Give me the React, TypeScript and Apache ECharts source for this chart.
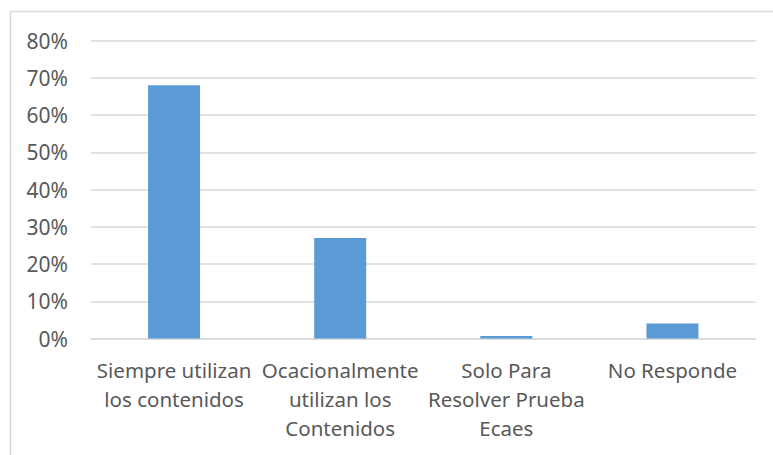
import React, { useEffect, useRef } from "react";
import * as echarts from "echarts";

const categories = [
  "Siempre utilizan\nlos contenidos",
  "Ocacionalmente\nutilizan los\nContenidos",
  "Solo Para\nResolver Prueba\nEcaes",
  "No Responde",
];
const values = [0.68, 0.27, 0.007, 0.04];
const yTicks = { min: 0, max: 0.8, interval: 0.1 };

export default function App() {
  const ref = useRef<HTMLDivElement>(null);
  useEffect(() => {
    const chart = echarts.init(ref.current!, null, { renderer: "svg" });
    const font = "'Noto Sans', sans-serif";
    chart.setOption({
      animation: false,
      backgroundColor: "#ffffff",
      graphic: [
        {
          type: "rect",
          shape: { x: 10.5, y: 11.5, width: 900, height: 600 },
          style: { fill: "none", stroke: "#d9d9d9", lineWidth: 1.5 },
          silent: true,
        },
      ],
      grid: { left: 91, right: 17.5, top: 40.5, bottom: 116.5 },
      xAxis: {
        type: "category",
        data: categories,
        axisLine: { show: true, lineStyle: { color: "#d9d9d9", width: 1.5 } },
        axisTick: { show: false },
        axisLabel: {
          interval: 0,
          color: "#595959",
          fontFamily: font,
          fontSize: 20.5,
          lineHeight: 29,
          margin: 17,
          align: "center",
        },
      },
      yAxis: {
        type: "value",
        min: yTicks.min,
        max: yTicks.max,
        interval: yTicks.interval,
        axisLine: { show: false },
        axisTick: { show: false },
        splitLine: { lineStyle: { color: "#d9d9d9", width: 1.5 } },
        axisLabel: {
          color: "#595959",
          fontFamily: font,
          fontSize: 21,
          margin: 23,
          formatter: (v: number) => Math.round(v * 100) + "%",
        },
      },
      series: [
        {
          type: "bar",
          data: values,
          barWidth: 52,
          itemStyle: { color: "#5b9bd5" },
        },
      ],
    });
    return () => chart.dispose();
  }, []);
  return (
    <div
      ref={ref}
      style={{ position: "fixed", left: 0, top: 0, width: 773, height: 455 }}
    />
  );
}
